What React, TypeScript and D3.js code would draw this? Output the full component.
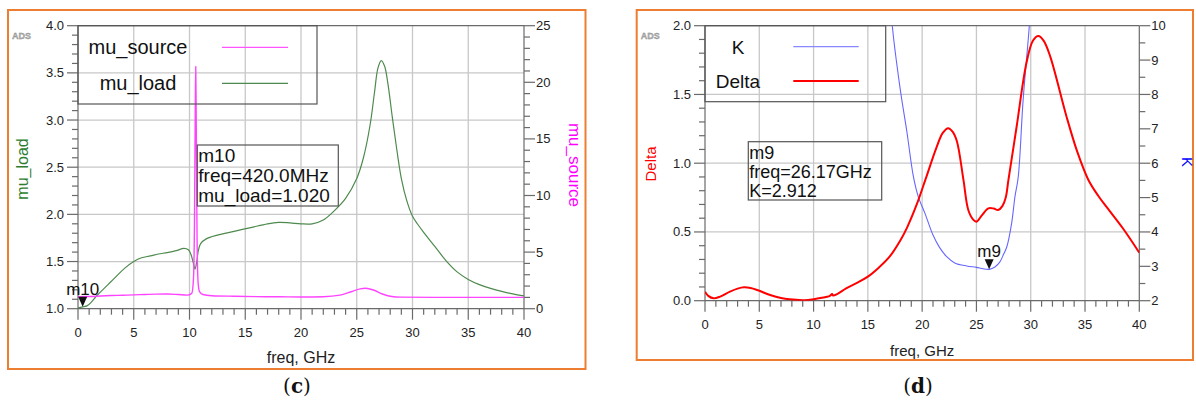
import React from "react";
import * as d3 from "d3";

// ---------- data ----------
const xTicksMajor = [0, 5, 10, 15, 20, 25, 30, 35, 40];

// panel (c)
const muLoadFreq = [0, 0.42, 0.8, 1.2, 1.7, 2.3, 2.9, 3.5, 4.2, 5, 5.7, 6.5, 7.2, 8, 8.8, 9.5, 9.9, 10.15, 10.35, 10.5, 10.65, 10.8, 11.0, 11.5, 12.5, 14, 15.5, 17, 18, 19, 20, 21, 22, 23, 24, 25, 25.6, 26.2, 26.6, 26.9, 27.2, 27.5, 27.8, 28.2, 28.6, 29, 29.5, 30, 30.5, 31, 32, 33, 34, 35, 36, 37, 38, 39, 40];
const muLoadVals = [1.01, 1.02, 1.03, 1.07, 1.14, 1.21, 1.28, 1.35, 1.43, 1.5, 1.54, 1.56, 1.58, 1.595, 1.615, 1.64, 1.625, 1.57, 1.48, 1.42, 1.5, 1.62, 1.69, 1.74, 1.78, 1.82, 1.86, 1.9, 1.915, 1.91, 1.9, 1.9, 1.94, 2.04, 2.17, 2.38, 2.6, 2.95, 3.3, 3.55, 3.63, 3.57, 3.38, 3.02, 2.68, 2.38, 2.14, 1.98, 1.89, 1.81, 1.66, 1.51, 1.39, 1.31, 1.255, 1.215, 1.183, 1.157, 1.135];
const muSourceFreq = [0, 1, 2, 3, 4, 5, 6, 7, 8, 9, 9.8, 10.2, 10.35, 10.45, 10.52, 10.56, 10.6, 10.68, 10.78, 10.9, 11.2, 12, 14, 16, 18, 20, 22, 23.5, 24.5, 25.3, 25.8, 26.5, 27.3, 28, 29, 32, 36, 40];
const muSourceVals = [1.06, 1.08, 1.12, 1.16, 1.19, 1.22, 1.26, 1.29, 1.3, 1.25, 1.2, 1.35, 2.5, 8, 18, 21.4, 17, 6, 2.2, 1.5, 1.25, 1.15, 1.1, 1.07, 1.05, 1.04, 1.06, 1.2, 1.5, 1.75, 1.8, 1.65, 1.3, 1.1, 1.02, 1.0, 1.0, 1.0];

// panel (d)
const kFreq = [17.0, 17.25, 17.96, 18.6, 19.2, 19.64, 20.26, 21.0, 21.6, 22.26, 23, 24.1, 25, 25.6, 26.17, 26.7, 27.16, 27.5, 27.8, 28.24, 28.55, 28.85, 29.3, 29.87, 30.1];
const kVals = [11.2, 10.0, 8.2, 6.9, 5.6, 5.03, 4.54, 3.91, 3.55, 3.28, 3.1, 3.01, 2.97, 2.93, 2.912, 2.98, 3.13, 3.35, 3.57, 4.25, 5.03, 5.6, 7.84, 10.0, 11.2];
const deltaFreq = [0, 0.3, 0.8, 1.4, 2.3, 3, 3.6, 4.2, 4.8, 6, 7, 7.8, 9, 9.5, 10.5, 11.5, 11.7, 11.8, 12.2, 13, 14, 15, 16, 17, 18, 18.6, 19.5, 20.3, 21.3, 21.9, 22.4, 22.8, 23.2, 23.8, 24.25, 24.7, 25.0, 25.5, 26.1, 26.6, 27.0, 27.4, 27.7, 27.95, 28.7, 29.6, 30.2, 30.7, 31.2, 31.8, 33.3, 34.3, 35.3, 36.2, 37, 38.5, 40];
const deltaVals = [0.065, 0.035, 0.017, 0.03, 0.066, 0.088, 0.097, 0.092, 0.078, 0.042, 0.02, 0.01, 0.004, 0.005, 0.018, 0.035, 0.048, 0.038, 0.05, 0.09, 0.13, 0.175, 0.24, 0.32, 0.44, 0.53, 0.7, 0.88, 1.11, 1.22, 1.255, 1.23, 1.16, 0.88, 0.66, 0.59, 0.575, 0.62, 0.672, 0.67, 0.66, 0.69, 0.75, 0.88, 1.265, 1.727, 1.89, 1.925, 1.89, 1.775, 1.338, 1.08, 0.88, 0.765, 0.68, 0.525, 0.349];

const leftTicksC = [1.0, 1.5, 2.0, 2.5, 3.0, 3.5, 4.0];
const rightTicksC = [0, 5, 10, 15, 20, 25];
const leftTicksD = [0.0, 0.5, 1.0, 1.5, 2.0];
const rightTicksD = [2, 3, 4, 5, 6, 7, 8, 9, 10];

const markerC = { name: "m10", freq: 0.42, value: 1.02, lines: ["m10", "freq=420.0MHz", "mu_load=1.020"] };
const markerD = { name: "m9", freq: 26.17, value: 2.912, lines: ["m9", "freq=26.17GHz", "K=2.912"] };

const FONT = "'Liberation Sans', Arial, sans-serif";

type Series = { xs: number[]; ys: number[]; axis: "left" | "right"; color: string; width: number; smooth: "cr" | "mono" };

type PanelProps = {
  id: string;
  frame: [number, number, number, number];
  plot: [number, number, number, number];
  leftDomain: [number, number];
  rightDomain: [number, number];
  leftTicks: number[];
  leftMinorStep: number;
  leftFmt: (v: number) => string;
  rightTicks: number[];
  rightMinorStep: number;
  rightFmt: (v: number) => string;
  leftTitle: string; leftColor: string; leftTitleX: number; leftTitleY: number; leftTitleSize: number;
  rightTitle: string; rightColor: string; rightTitleX: number; rightTitleY: number; rightTitleSize: number;
  series: Series[];
  legend: { box: [number, number]; names: string[]; colors: string[]; widths: number[]; textX: number; ys: number[]; lineX: [number, number]; fontSize: number };
  marker: { name: string; freq: number; value: number; lines: string[]; axis: "left" | "right" };
  markerBox: [number, number, number, number];
  markerBaselines: number[];
  markerFont: number;
  xTitleY: number; xTitleSize: number;
  caption: string; captionX: number;
  tickFont: number;
};

function Panel(p: PanelProps) {
  const [px0, py0, px1, py1] = p.plot;
  const x = d3.scaleLinear().domain([0, 40]).range([px0, px1]);
  const yl = d3.scaleLinear().domain(p.leftDomain).range([py1, py0]);
  const yr = d3.scaleLinear().domain(p.rightDomain).range([py1, py0]);
  const xMinor = d3.range(0, 40.001, 1).filter((v) => v % 5 !== 0);
  const lMinor = d3.range(p.leftDomain[0], p.leftDomain[1] + 1e-6, p.leftMinorStep).filter((v) => !p.leftTicks.some((t) => Math.abs(t - v) < 1e-6));
  const rMinor = d3.range(p.rightDomain[0], p.rightDomain[1] + 1e-6, p.rightMinorStep).filter((v) => !p.rightTicks.some((t) => Math.abs(t - v) < 1e-6));
  const axisCol = "#6a6a6a";
  const gridCol = "#c8c8c8";
  const clipId = "clip-" + p.id;
  const mk = p.marker;
  const mx = x(mk.freq);
  const my = (mk.axis === "left" ? yl : yr)(mk.value);
  const [fx0, fy0, fx1, fy1] = p.frame;
  const [bx0, by0, bx1, by1] = p.markerBox;
  return (
    <g>
      <rect x={fx0} y={fy0} width={fx1 - fx0} height={fy1 - fy0} fill="white" stroke="#ed7d31" strokeWidth={2} />
      <text x={fx0 + 4} y={fy0 + 29} fontFamily={FONT} fontSize={9} fontWeight="bold" fill="#b0b0b0" stroke="#888" strokeWidth={0.3}>ADS</text>
      <defs>
        <clipPath id={clipId}><rect x={px0} y={py0} width={px1 - px0} height={py1 - py0} /></clipPath>
      </defs>
      {xTicksMajor.filter((v) => v > 0 && v < 40).map((v) => (
        <line key={"gx" + v} x1={x(v)} x2={x(v)} y1={py0} y2={py1} stroke={gridCol} strokeWidth={1.3} />
      ))}
      {p.leftTicks.filter((v) => v > p.leftDomain[0] && v < p.leftDomain[1]).map((v) => (
        <line key={"gy" + v} x1={px0} x2={px1} y1={yl(v)} y2={yl(v)} stroke={gridCol} strokeWidth={1.3} />
      ))}
      <line x1={px0} x2={px1} y1={py0} y2={py0} stroke={axisCol} strokeWidth={1.2} />
      <line x1={px0} x2={px1} y1={py1} y2={py1} stroke={axisCol} strokeWidth={1.2} />
      <line x1={px0} x2={px0} y1={py0} y2={py1} stroke={axisCol} strokeWidth={1.2} />
      <line x1={px1} x2={px1} y1={py0} y2={py1} stroke={axisCol} strokeWidth={1.2} />
      {xTicksMajor.map((v) => (
        <g key={"xt" + v}>
          <line x1={x(v)} x2={x(v)} y1={py1} y2={py1 + 11} stroke={axisCol} strokeWidth={1.2} />
          <text x={x(v)} y={py1 + 28} textAnchor="middle" fontFamily={FONT} fontSize={p.tickFont} fill="#222">{v}</text>
        </g>
      ))}
      {xMinor.map((v) => (
        <line key={"xm" + v} x1={x(v)} x2={x(v)} y1={py1} y2={py1 + 6} stroke={axisCol} strokeWidth={1.2} />
      ))}
      {p.leftTicks.map((v) => (
        <g key={"lt" + v}>
          <line x1={px0 - 11} x2={px0} y1={yl(v)} y2={yl(v)} stroke={axisCol} strokeWidth={1.2} />
          <text x={px0 - 14} y={yl(v) + 4.5} textAnchor="end" fontFamily={FONT} fontSize={p.tickFont} fill="#222">{p.leftFmt(v)}</text>
        </g>
      ))}
      {lMinor.map((v) => (
        <line key={"lm" + v} x1={px0 - 6} x2={px0} y1={yl(v)} y2={yl(v)} stroke={axisCol} strokeWidth={1.2} />
      ))}
      {p.rightTicks.map((v) => (
        <g key={"rt" + v}>
          <line x1={px1} x2={px1 + 11} y1={yr(v)} y2={yr(v)} stroke={axisCol} strokeWidth={1.2} />
          <text x={px1 + 12} y={yr(v) + 4.5} textAnchor="start" fontFamily={FONT} fontSize={p.tickFont} fill="#222">{p.rightFmt(v)}</text>
        </g>
      ))}
      {rMinor.map((v) => (
        <line key={"rm" + v} x1={px1} x2={px1 + 6} y1={yr(v)} y2={yr(v)} stroke={axisCol} strokeWidth={1.2} />
      ))}
      <text transform={`translate(${p.leftTitleX},${p.leftTitleY}) rotate(-90)`} textAnchor="middle" fontFamily={FONT} fontSize={p.leftTitleSize} fill={p.leftColor} dominantBaseline="middle">{p.leftTitle}</text>
      <text transform={`translate(${p.rightTitleX},${p.rightTitleY}) rotate(90)`} textAnchor="middle" fontFamily={FONT} fontSize={p.rightTitleSize} fill={p.rightColor} dominantBaseline="middle">{p.rightTitle}</text>
      <text x={(px0 + px1) / 2} y={p.xTitleY} textAnchor="middle" fontFamily={FONT} fontSize={p.xTitleSize} fill="#222">freq, GHz</text>
      <g clipPath={`url(#${clipId})`}>
        {p.series.map((s, i) => {
          const ys = s.axis === "left" ? yl : yr;
          const pts: [number, number][] = s.xs.map((f, k) => [f, s.ys[k]]);
          const curve = s.smooth === "cr" ? d3.curveCatmullRom.alpha(0.5) : d3.curveMonotoneX;
          const path = d3.line<[number, number]>().x((d) => x(d[0])).y((d) => ys(d[1])).curve(curve)(pts) || "";
          return <path key={"s" + i} d={path} fill="none" stroke={s.color} strokeWidth={s.width} strokeLinejoin="round" />;
        })}
      </g>
      <rect x={px0} y={py0} width={p.legend.box[0] - px0} height={p.legend.box[1] - py0} fill="none" stroke="#555" strokeWidth={1.2} />
      {p.legend.names.map((n, i) => (
        <g key={"lg" + i}>
          <text x={p.legend.textX} y={p.legend.ys[i] + 7} textAnchor="middle" fontFamily={FONT} fontSize={p.legend.fontSize} fill="#111">{n}</text>
          <line x1={p.legend.lineX[0]} x2={p.legend.lineX[1]} y1={p.legend.ys[i]} y2={p.legend.ys[i]} stroke={p.legend.colors[i]} strokeWidth={p.legend.widths[i]} />
        </g>
      ))}
      <path d={`M${mx - 4.5},${my - 10} L${mx + 4.5},${my - 10} L${mx},${my} Z`} fill="#111" />
      <text x={mx} y={my - 12} textAnchor="middle" fontFamily={FONT} fontSize={17} fill="#111">{mk.name}</text>
      <rect x={bx0} y={by0} width={bx1 - bx0} height={by1 - by0} fill="none" stroke="#555" strokeWidth={1.2} />
      {mk.lines.map((t, i) => (
        <text key={"ml" + i} x={bx0 + 1} y={p.markerBaselines[i]} fontFamily={FONT} fontSize={p.markerFont} fill="#111">{t}</text>
      ))}
      <text x={p.captionX} y={393} textAnchor="middle" fontFamily="'DejaVu Serif', 'Liberation Serif', serif" fontSize={20} fill="#111">
        (<tspan fontWeight="bold">{p.caption}</tspan>)
      </text>
    </g>
  );
}

export default function App() {
  const fmt1 = (v: number) => v.toFixed(1);
  const fmt0 = (v: number) => String(v);
  const panelC: PanelProps = {
    id: "c",
    frame: [8, 10, 585.5, 369],
    plot: [78, 25.7, 524, 308.7],
    leftDomain: [1, 4],
    rightDomain: [0, 25],
    leftTicks: leftTicksC, leftMinorStep: 0.1, leftFmt: fmt1,
    rightTicks: rightTicksC, rightMinorStep: 1, rightFmt: fmt0,
    leftTitle: "mu_load", leftColor: "#2e7d2e", leftTitleX: 24, leftTitleY: 169, leftTitleSize: 16,
    rightTitle: "mu_source", rightColor: "#ff00ff", rightTitleX: 573, rightTitleY: 165, rightTitleSize: 17,
    series: [
      { xs: muLoadFreq, ys: muLoadVals, axis: "left", color: "#4e8a4e", width: 1.2, smooth: "cr" },
      { xs: muSourceFreq, ys: muSourceVals, axis: "right", color: "#ff44ff", width: 1.4, smooth: "mono" },
    ],
    legend: { box: [317, 104], names: ["mu_source", "mu_load"], colors: ["#ff55ff", "#4e8a4e"], widths: [1.3, 1.3], textX: 138, ys: [47.3, 83.3], lineX: [222, 288], fontSize: 20 },
    marker: { ...markerC, axis: "left" },
    markerBox: [197.3, 145, 338.3, 206],
    markerBaselines: [162, 182, 201.5],
    markerFont: 19,
    xTitleY: 363, xTitleSize: 16,
    caption: "c", captionX: 297,
    tickFont: 13,
  };
  const panelD: PanelProps = {
    id: "d",
    frame: [636.7, 10, 1193, 360],
    plot: [705, 25.7, 1139.3, 300.7],
    leftDomain: [0, 2],
    rightDomain: [2, 10],
    leftTicks: leftTicksD, leftMinorStep: 0.1, leftFmt: fmt1,
    rightTicks: rightTicksD, rightMinorStep: 0.5, rightFmt: fmt0,
    leftTitle: "Delta", leftColor: "#ff0000", leftTitleX: 652, leftTitleY: 164, leftTitleSize: 15,
    rightTitle: "K", rightColor: "#0000ff", rightTitleX: 1186, rightTitleY: 162, rightTitleSize: 15,
    series: [
      { xs: kFreq, ys: kVals, axis: "right", color: "#6666ff", width: 1.1, smooth: "cr" },
      { xs: deltaFreq, ys: deltaVals, axis: "left", color: "#ff0000", width: 2, smooth: "cr" },
    ],
    legend: { box: [885.7, 101.7], names: ["K", "Delta"], colors: ["#8888ff", "#ff0000"], widths: [1.3, 2], textX: 738, ys: [46.7, 81], lineX: [793.3, 858.7], fontSize: 19 },
    marker: { ...markerD, axis: "right" },
    markerBox: [748.3, 141.7, 881.7, 200],
    markerBaselines: [158.5, 177.5, 197],
    markerFont: 18,
    xTitleY: 356, xTitleSize: 15,
    caption: "d", captionX: 918,
    tickFont: 13,
  };
  return (
    <svg width={1196} height={403} style={{ position: "absolute", left: 0, top: 0, background: "white" }}>
      <Panel {...panelC} />
      <Panel {...panelD} />
    </svg>
  );
}
